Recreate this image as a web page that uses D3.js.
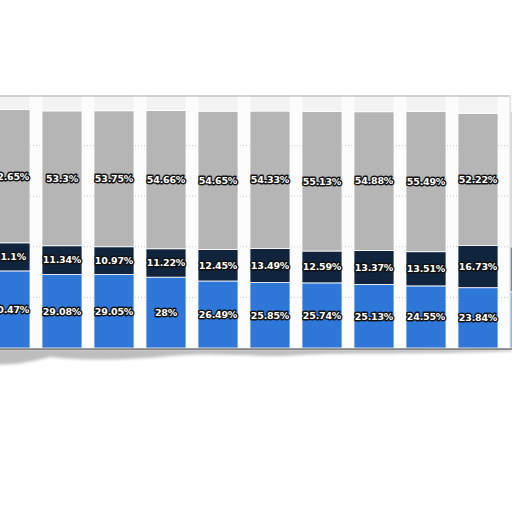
<!DOCTYPE html>
<html>
<head>
<meta charset="utf-8">
<script src="https://cdn.jsdelivr.net/npm/d3@7"></script>
<style>
  body { margin: 0; background: #fff; }
  svg { display: block; }
</style>
</head>
<body>
<svg id="chart" width="512" height="512"></svg>
<script>
// periods, left to right (the first and last one are cut off by the crop)
const periods = ["p1", "p2", "p3", "p4", "p5", "p6", "p7", "p8", "p9", "p10", "p11"];

// shares in %, bottom to top
const blueShare = [30.47, 29.08, 29.05, 28, 26.49, 25.85, 25.74, 25.13, 24.55, 23.84, 22.2];
const navyShare = [11.1, 11.34, 10.97, 11.22, 12.45, 13.49, 12.59, 13.37, 13.51, 16.73, 17.8];
const greyShare = [52.65, 53.3, 53.75, 54.66, 54.65, 54.33, 55.13, 54.88, 55.49, 52.22, 53.5];

const yTicks = [0, 20, 40, 60, 80, 100];

const keys = ["blue", "navy", "grey", "rest"];
const colors = {blue: "#2e77d8", navy: "#10243d", grey: "#b5b5b5", rest: "#f3f3f3"};

let rows = periods.map((p, i) => ({
    period: p,
    blue: blueShare[i],
    navy: navyShare[i],
    grey: greyShare[i],
    rest: 100 - blueShare[i] - navyShare[i] - greyShare[i]
}));

let svg = d3.select("#chart");

let plotTop = 96, plotBottom = 349;

let x = d3.scaleBand()
    .domain(periods)
    .range([-16, 556])
    .paddingInner(0.23)
    .paddingOuter(0.115);

let y = d3.scaleLinear()
    .domain([0, 100])
    .range([plotBottom - 1, plotTop - 1]);

let defs = svg.append("defs");
defs.append("filter").attr("id", "soft")
    .append("feGaussianBlur").attr("stdDeviation", 1.4);

// torn paper shadow under the frame
svg.append("path")
    .attr("d", "M-5,350 L-5,364 C10,366 30,362 50,357 C90,361 130,360 170,356 C220,352 260,358 300,355 C350,352 420,355 512,351 L512,349 L-5,349 Z")
    .attr("fill", "#bdbdbd")
    .attr("filter", "url(#soft)");

// plot panel
svg.append("rect")
    .attr("x", -2).attr("y", plotTop)
    .attr("width", 512).attr("height", plotBottom - plotTop)
    .attr("fill", "#fcfcfc");

// dotted gridlines
svg.append("g")
    .selectAll("line")
    .data(yTicks.slice(1, -1))
    .join("line")
    .attr("x1", 0).attr("x2", 512)
    .attr("y1", d => y(d)).attr("y2", d => y(d))
    .attr("stroke", "#c8c8c8")
    .attr("stroke-dasharray", "1,2");

let stack = d3.stack().keys(keys)(rows);

let layers = svg.append("g")
    .selectAll("g")
    .data(stack)
    .join("g")
    .attr("fill", d => colors[d.key]);

layers.selectAll("rect")
    .data(d => d)
    .join("rect")
    .attr("x", d => x(d.data.period))
    .attr("width", x.bandwidth())
    .attr("y", d => y(d[1]))
    .attr("height", d => y(d[0]) - y(d[1]))
    .attr("stroke", "#fff")
    .attr("stroke-width", 0.8);

// value labels (not on the light remainder)
layers.filter(d => d.key != "rest")
    .selectAll("text")
    .data(d => d.map(v => Object.assign({}, v, {key: d.key})))
    .join("text")
    .attr("x", d => x(d.data.period) + x.bandwidth() / 2)
    .attr("y", d => (y(d[0]) + y(d[1])) / 2)
    .attr("dy", "0.35em")
    .attr("text-anchor", "middle")
    .attr("font-family", "DejaVu Sans")
    .attr("font-weight", "bold")
    .attr("font-size", 9.5)
    .attr("letter-spacing", -0.2)
    .attr("fill", "#fff")
    .attr("stroke", "#111")
    .attr("stroke-width", 2.8)
    .attr("stroke-linejoin", "round")
    .attr("paint-order", "stroke")
    .text(d => d.data[d.key] + "%");

// faded strip beyond the right border
svg.append("rect")
    .attr("x", 510).attr("y", plotTop)
    .attr("width", 10).attr("height", plotBottom - plotTop)
    .attr("fill", "#fff").attr("opacity", 0.45);

// frame
svg.append("line")
    .attr("x1", 0).attr("x2", 510)
    .attr("y1", plotTop).attr("y2", plotTop)
    .attr("stroke", "#c4c4c4").attr("stroke-width", 1.5);
svg.append("line")
    .attr("x1", 510).attr("x2", 510)
    .attr("y1", plotTop).attr("y2", plotBottom)
    .attr("stroke", "#d8d8d8");
svg.append("line")
    .attr("x1", 0).attr("x2", 512)
    .attr("y1", plotBottom).attr("y2", plotBottom)
    .attr("stroke", "#3a3a3a");
</script>
</body>
</html>
